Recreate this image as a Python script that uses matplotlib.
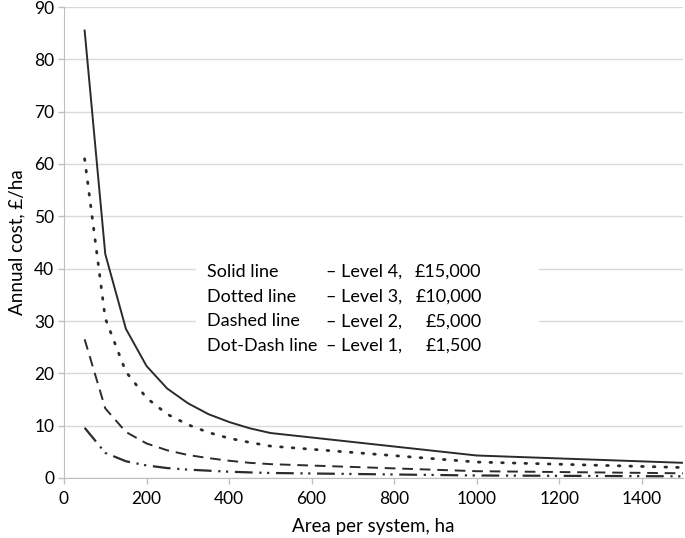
import matplotlib
matplotlib.use("Agg")
import matplotlib.pyplot as plt
from matplotlib.patches import Rectangle

plt.rcParams["font.family"] = ["Lato", "DejaVu Sans"]

area = [50, 100, 150, 200, 250, 300, 350, 400, 450, 500, 1000, 1500]
level4 = [85.5, 42.8, 28.5, 21.4, 17.1, 14.3, 12.2, 10.7, 9.5, 8.6, 4.3, 2.9]
level3 = [61.0, 30.5, 20.3, 15.3, 12.2, 10.2, 8.7, 7.6, 6.8, 6.1, 3.05, 2.0]
level2 = [26.5, 13.3, 8.8, 6.6, 5.3, 4.4, 3.8, 3.3, 2.9, 2.65, 1.3, 0.9]
level1 = [9.6, 4.8, 3.2, 2.4, 1.9, 1.6, 1.4, 1.2, 1.07, 0.96, 0.48, 0.32]

names = ["Solid line", "Dotted line", "Dashed line", "Dot-Dash line"]
levels = ["\u2013 Level 4,", "\u2013 Level 3,", "\u2013 Level 2,", "\u2013 Level 1,"]
costs = ["\u00a315,000", "\u00a310,000", "\u00a35,000", "\u00a31,500"]

line_col = "#2b2b2b"
grid_col = "#d9d9d9"

fig = plt.figure(figsize=(6.85, 5.38), dpi=100)
ax = fig.add_axes([64 / 685, 60 / 538, 619 / 685, 471 / 538])

ax.plot(area, level4, color=line_col, lw=1.4, ls="-")
ax.plot(area, level3, color=line_col, lw=2.0, ls=(0, (0.6, 3.6)), dash_capstyle="round")
ax.plot(area, level2, color=line_col, lw=1.4, ls=(0, (5.5, 3.5)))
ax.plot(area, level1, color=line_col, lw=1.6, ls=(0, (8, 3, 1, 2.5, 1, 3)))

ax.set_xlim(0, 1500)
ax.set_ylim(0, 90)
ax.set_xticks(range(0, 1401, 200))
ax.set_yticks(range(0, 91, 10))
ax.grid(axis="y", color=grid_col, lw=1.0)
ax.set_axisbelow(True)
for side in ["top", "right"]:
    ax.spines[side].set_visible(False)
for side in ["left", "bottom"]:
    ax.spines[side].set_color("#bfbfbf")
ax.tick_params(axis="both", colors="#bfbfbf", labelcolor="black", labelsize=12.5, length=4, width=1)
ax.tick_params(axis="x", pad=5)
ax.tick_params(axis="y", pad=3)

ax.set_xlabel("Area per system, ha", fontsize=13.5, labelpad=8)
ax.set_ylabel("Annual cost, \u00a3/ha", fontsize=13.5, labelpad=6)

# white box behind the key text (hides gridlines)
ax.add_patch(Rectangle((320, 21.5), 830, 21, facecolor="white", edgecolor="none", zorder=1.5))

for i, (n, l, c) in enumerate(zip(names, levels, costs)):
    y = 39.4 - i * 4.73
    ax.text(346, y, n, fontsize=13, va="center", ha="left", zorder=3)
    ax.text(636, y, l, fontsize=13, va="center", ha="left", zorder=3)
    ax.text(1012, y, c, fontsize=13, va="center", ha="right", zorder=3)

fig.savefig("out.png", dpi=100)
